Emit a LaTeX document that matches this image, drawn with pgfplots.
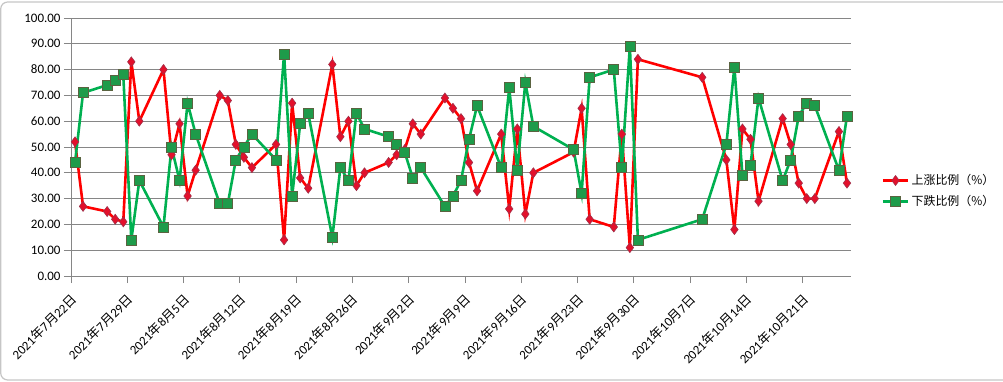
\documentclass[border=0pt]{standalone}
\usepackage{pgfplots}
\pgfplotsset{compat=1.18}
\usepackage{fontspec}
\setmainfont{Carlito}
\newfontfamily\cjk{Noto Sans CJK SC}
\definecolor{redline}{HTML}{FF0000}
\definecolor{redmark}{HTML}{E3102B}
\definecolor{redborder}{HTML}{A0304A}
\definecolor{greenline}{HTML}{00B050}
\definecolor{greenmark}{HTML}{1E9B4A}
\definecolor{greenborder}{HTML}{5A6340}
\definecolor{gridgray}{HTML}{868686}
\newcommand\dt[3]{#1{\cjk 年}#2{\cjk 月}#3{\cjk 日}}
\begin{document}
\begin{tikzpicture}
\useasboundingbox (-71bp,-106bp) rectangle (932bp,276bp);
\draw[gray!45, line width=1.2bp, rounded corners=7bp] (-70.3bp,-104bp) rectangle (960bp,274bp);
\begin{axis}[
  at={(0,0)}, anchor=south west,
  scale only axis, width=780bp, height=258bp,
  xmin=-0.5, xmax=96.5, ymin=0, ymax=100,
  axis x line*=bottom, axis y line*=left,
  axis line style={gridgray, line width=0.9bp},
  ymajorgrids, major grid style={gridgray, line width=0.9bp},
  tick align=outside, major tick length=7bp,
  tick style={gridgray, line width=0.9bp},
  ytick={0,10,...,100},
  yticklabel style={/pgf/number format/fixed, /pgf/number format/fixed zerofill, /pgf/number format/precision=2, font=\fontsize{13}{15}\selectfont},
  /pgf/number format/assume math mode=true,
  xtick={-0.5,6.5,13.5,20.5,27.5,34.5,41.5,48.5,55.5,62.5,69.5,76.5,83.5,90.5},
  xticklabels={\dt{2021}{7}{22},\dt{2021}{7}{29},\dt{2021}{8}{5},\dt{2021}{8}{12},\dt{2021}{8}{19},\dt{2021}{8}{26},\dt{2021}{9}{2},\dt{2021}{9}{9},\dt{2021}{9}{16},\dt{2021}{9}{23},\dt{2021}{9}{30},\dt{2021}{10}{7},\dt{2021}{10}{14},\dt{2021}{10}{21}},
  xticklabel style={xshift=4bp, yshift=-13bp, rotate=45, anchor=east, font=\fontsize{13}{15}\selectfont, inner sep=1bp},
  legend style={at={(1.035,0.33)}, anchor=west, draw=none, fill=none, font=\fontsize{12}{14}\selectfont\cjk, row sep=5bp},
  legend cell align=left,
  legend image code/.code={\draw[mark repeat=2,mark phase=2] plot coordinates {(0cm,0cm) (0.45cm,0cm) (0.9cm,0cm)};},
]
\addplot[redline, line width=2.6bp, mark=diamond*, mark size=5bp, mark options={fill=redmark, draw=redborder, line width=0.6bp, solid}]
coordinates {(0,52)(1,27)(4,25)(5,22)(6,21)(7,83)(8,60)(11,80)(12,47)(13,59)(14,31)(15,41)(18,70)(19,68)(20,51)(21,46)(22,42)(25,51)(26,14)(27,67)(28,38)(29,34)(32,82)(33,54)(34,60)(35,35)(36,40)(39,44)(40,47)(41,49)(42,59)(43,55)(46,69)(47,65)(48,61)(49,44)(50,33)(53,55)(54,26)(55,57)(56,24)(57,40)(62,48)(63,65)(64,22)(67,19)(68,55)(69,11)(70,84)(78,77)(81,45)(82,18)(83,57)(84,53)(85,29)(88,61)(89,51)(90,36)(91,30)(92,30)(95,56)(96,36)};
\addlegendentry{上涨比例（\%）}
\addplot[greenline, line width=2.6bp, mark=square*, mark size=5bp, mark options={fill=greenmark, draw=greenborder, line width=0.7bp, solid}]
coordinates {(0,44)(1,71)(4,74)(5,76)(6,78)(7,14)(8,37)(11,19)(12,50)(13,37)(14,67)(15,55)(18,28)(19,28)(20,45)(21,50)(22,55)(25,45)(26,86)(27,31)(28,59)(29,63)(32,15)(33,42)(34,37)(35,63)(36,57)(39,54)(40,51)(41,48)(42,38)(43,42)(46,27)(47,31)(48,37)(49,53)(50,66)(53,42)(54,73)(55,41)(56,75)(57,58)(62,49)(63,32)(64,77)(67,80)(68,42)(69,89)(70,14)(78,22)(81,51)(82,81)(83,39)(84,43)(85,69)(88,37)(89,45)(90,62)(91,67)(92,66)(95,41)(96,62)};
\addlegendentry{下跌比例（\%）}
\end{axis}
\end{tikzpicture}
\end{document}
